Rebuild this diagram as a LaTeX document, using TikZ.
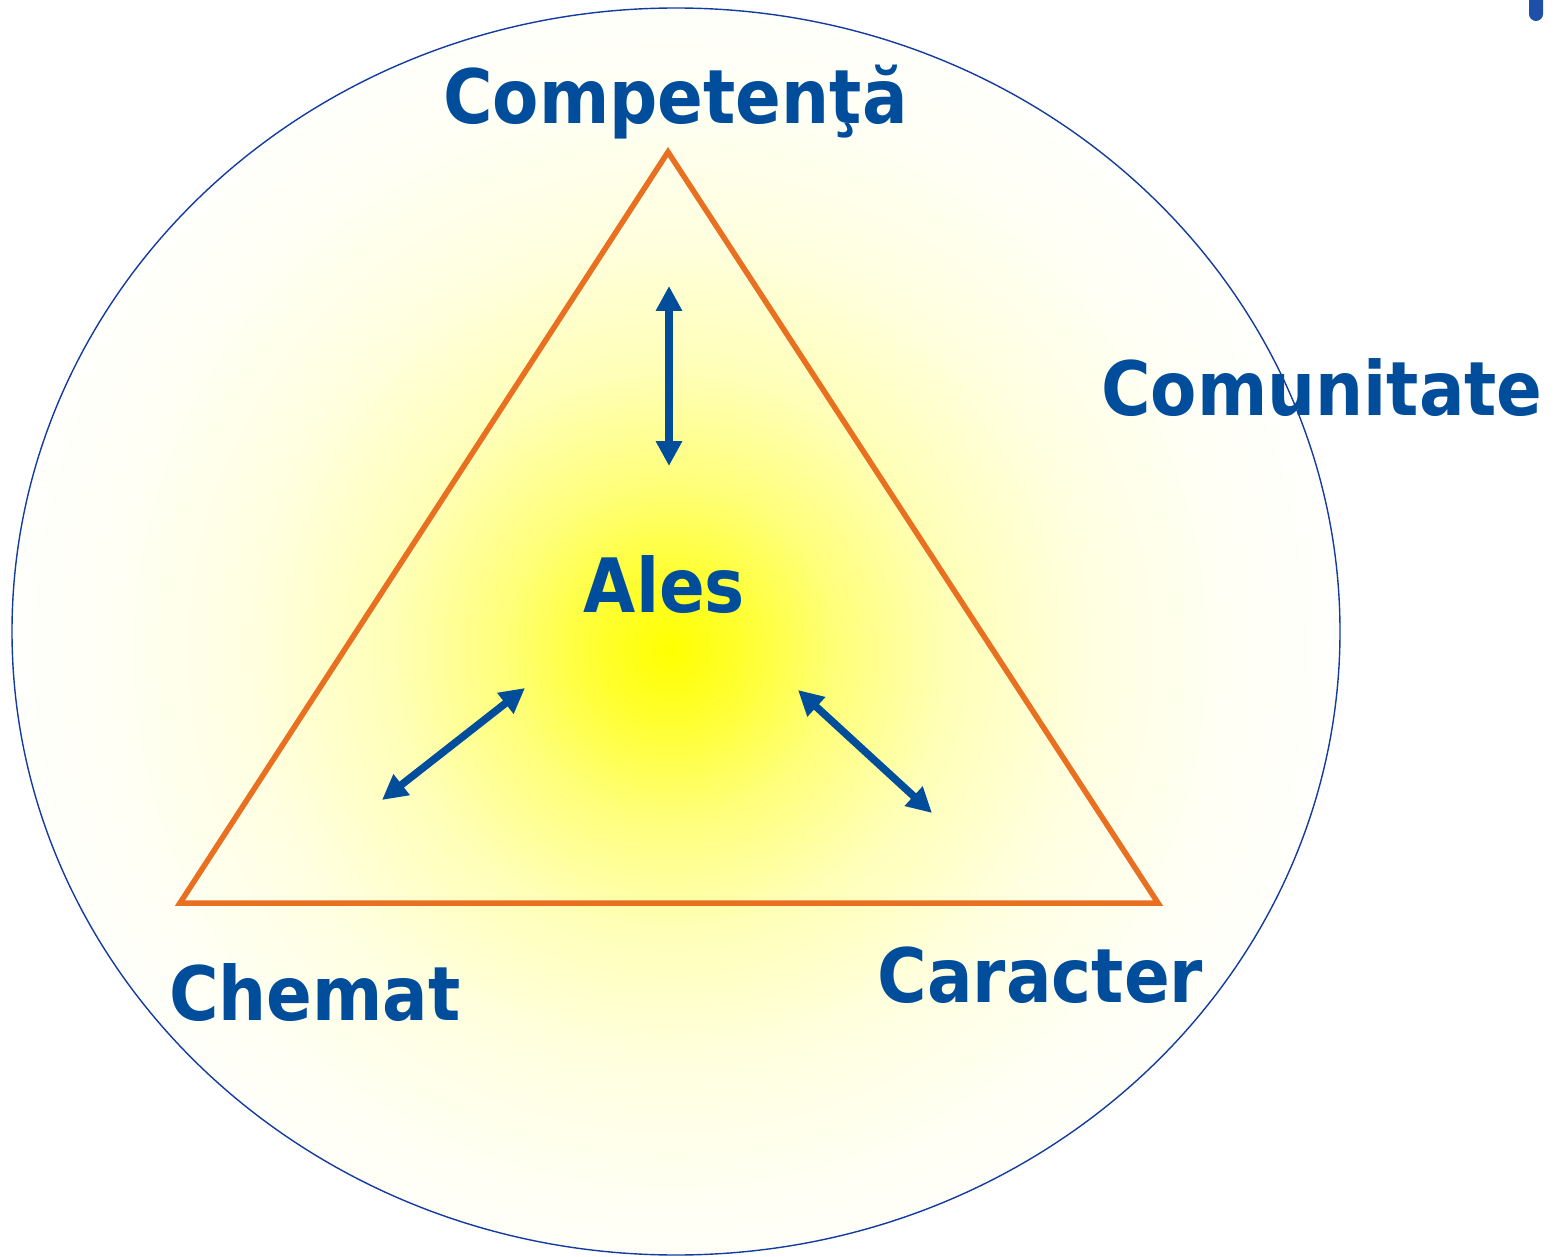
\documentclass[tikz,border=0pt]{standalone}
\usepackage{fontspec}
\setmainfont{DejaVu Sans Condensed}[BoldFont={DejaVu Sans Condensed Bold}]
\usetikzlibrary{arrows.meta}
\definecolor{txtblue}{RGB}{0,78,155}
\definecolor{ellblue}{RGB}{20,60,160}
\definecolor{triorange}{RGB}{232,112,32}
\definecolor{markblue}{RGB}{30,80,170}
\pgfdeclareradialshading{glow}{\pgfpoint{0bp}{0bp}}{%
  color(0bp)=(yellow);
  color(2.5bp)=(yellow!82!white);
  color(6bp)=(yellow!52!white);
  color(10bp)=(yellow!28!white);
  color(15bp)=(yellow!12!white);
  color(20bp)=(yellow!4!white);
  color(25bp)=(white);
  color(50bp)=(white)}
\tikzset{
  lbl/.style={font=\bfseries\fontsize{75}{80}\selectfont, text=txtblue, inner sep=0pt, anchor=base},
  dblarrow/.style={draw=txtblue, line width=7.5pt,
    {Triangle[width=25pt,length=25pt]}-{Triangle[width=25pt,length=25pt]}}
}
\begin{document}
\begin{tikzpicture}[x=1pt,y=-1pt]
\useasboundingbox (0,0) rectangle (1556,1257);
\fill[white] (0,0) rectangle (1556,1257);
% shaded ellipse
\begin{scope}
  \clip (676,631.5) ellipse [x radius=664, y radius=623.5];
  \shade[shading=glow] (670,650) circle [radius=700];
\end{scope}
\draw[ellblue, line width=1.4pt] (676,631.5) ellipse [x radius=664, y radius=623.5];
% triangle
\coordinate (apex) at (668,152);
\coordinate (bl) at (180,903);
\coordinate (br) at (1158,903);
\draw[triorange, line width=5.5pt, line join=miter] (apex) -- (br) -- (bl) -- cycle;
% arrows
\coordinate (v1) at (669,286);
\coordinate (v2) at (669,466);
\coordinate (l1) at (382,800);
\coordinate (l2) at (525,688);
\coordinate (r1) at (798,690);
\coordinate (r2) at (932,813);
\draw[dblarrow] (v1) -- (v2);
\draw[dblarrow] (l1) -- (l2);
\draw[dblarrow] (r1) -- (r2);
% labels
\node[lbl] (comp) at (675.5,124) {Competenţă};
\node[lbl] (ales) at (664.5,612) {Ales};
\node[lbl] (comu) at (1322,415) {Comunitate};
\node[lbl] (chem) at (315,1020) {Chemat};
\node[lbl] (cara) at (1040.5,1002) {Caracter};
% corner mark
\fill[markblue, rounded corners=7pt] (1529,-20) rectangle (1543,21);
\end{tikzpicture}
\end{document}
